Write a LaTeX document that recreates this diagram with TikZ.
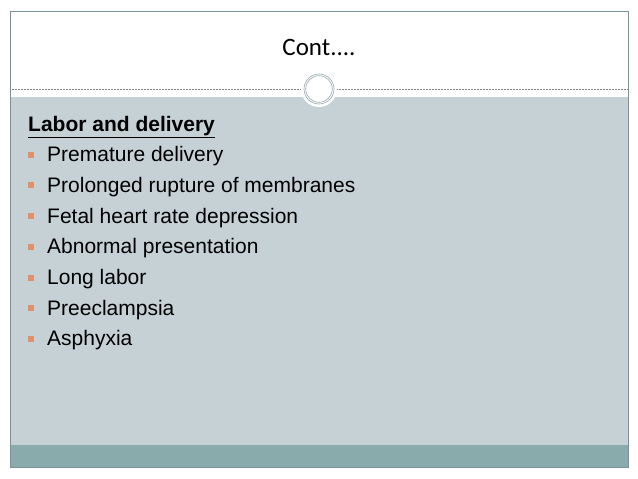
\documentclass[tikz,border=0pt]{standalone}
\usepackage{fontspec}
\setmainfont{Liberation Sans}
\newfontfamily\titlefont{Carlito}
\definecolor{panel}{HTML}{C6D1D6}
\definecolor{band}{HTML}{8AABAC}
\definecolor{frame}{HTML}{7A9398}
\definecolor{bul}{HTML}{E0906A}
\begin{document}
\begin{tikzpicture}[x=1pt,y=-1pt,
  item/.style={anchor=base west,font=\fontsize{21}{23}\selectfont,inner sep=0pt},
  bulletbox/.style={fill=bul,minimum size=6pt,inner sep=0pt}]
\useasboundingbox (0,0) rectangle (638,479);
\fill[white] (0,0) rectangle (638,479);
\fill[panel] (10,97) rectangle (628,445);
\fill[band] (10,445) rectangle (628,467);
\draw[frame,line width=0.8pt] (10,11) rectangle (628,467);
\draw[gray,densely dotted,line width=0.5pt] (10,89) -- (628,89);
\fill[white] (319,89) circle (18);
\draw[frame!80,line width=0.6pt] (319,89) circle (15);
\draw[frame!80,line width=0.6pt] (319,89) circle (13.3);
\node[anchor=base,font=\titlefont\fontsize{25}{27}\selectfont,inner sep=0pt] (title) at (319,56) {Cont....};
\node[item,font=\bfseries\fontsize{21}{23}\selectfont] (head) at (28,131) {\underline{Labor and delivery}};
\foreach \t [count=\i] in {Premature delivery,Prolonged rupture of membranes,Fetal heart rate depression,Abnormal presentation,Long labor,Preeclampsia,Asphyxia}{
  \node[item] (b\i) at (47,131+30.7*\i) {\t};
  \node[bulletbox] (s\i) at (31,124+30.7*\i) {};
}
\end{tikzpicture}
\end{document}
